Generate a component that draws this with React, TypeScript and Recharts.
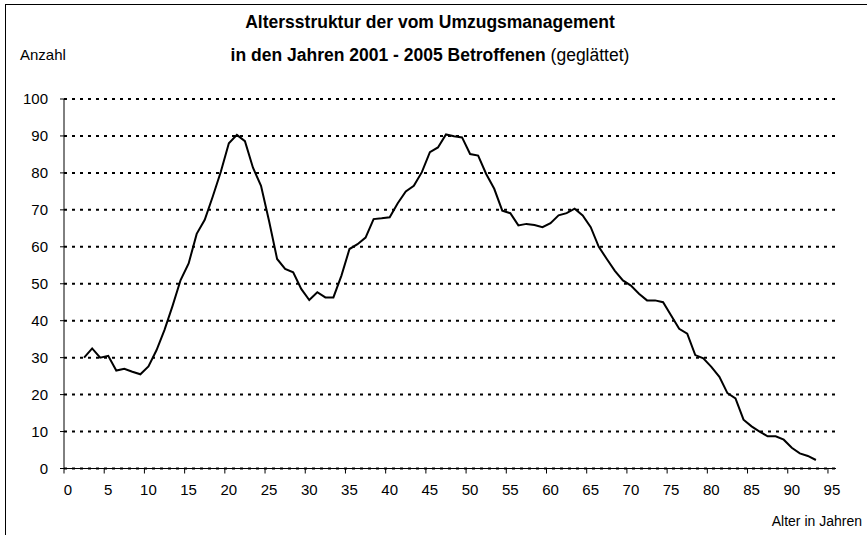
import React from 'react';
import { LineChart, Line, XAxis, YAxis, CartesianGrid } from 'recharts';

const ages = [
  2, 3, 4, 5, 6, 7, 8, 9, 10, 11, 12, 13, 14, 15, 16, 17, 18, 19, 20, 21,
  22, 23, 24, 25, 26, 27, 28, 29, 30, 31, 32, 33, 34, 35, 36, 37, 38, 39, 40, 41,
  42, 43, 44, 45, 46, 47, 48, 49, 50, 51, 52, 53, 54, 55, 56, 57, 58, 59, 60, 61,
  62, 63, 64, 65, 66, 67, 68, 69, 70, 71, 72, 73, 74, 75, 76, 77, 78, 79, 80, 81,
  82, 83, 84, 85, 86, 87, 88, 89, 90, 91, 92, 93,
];

const anzahl = [
  30, 32.5, 30, 30.5, 26.5, 27, 26.2, 25.5, 27.6, 32, 37.5, 44, 51, 55.5, 63.5, 67.3, 73.6, 80.3, 88, 90.3,
  88.6, 81.4, 76.5, 67, 56.7, 54, 53.1, 48.6, 45.6, 47.7, 46.3, 46.3, 52.2, 59.4, 60.7, 62.5, 67.5, 67.7, 68, 71.8,
  75, 76.5, 80.2, 85.6, 86.9, 90.4, 89.9, 89.6, 85.1, 84.7, 79.7, 75.7, 69.8, 69.1, 65.8, 66.2, 65.9, 65.3, 66.4, 68.5,
  69.1, 70.3, 68.5, 65.3, 60, 56.7, 53.5, 50.9, 49.5, 47.3, 45.5, 45.5, 45, 41.4, 37.8, 36.5, 30.7, 29.8, 27.5, 24.8,
  20.4, 19, 13.2, 11.4, 10, 8.7, 8.7, 7.8, 5.6, 4.1, 3.4, 2.3,
];

const xTicks = [0, 5, 10, 15, 20, 25, 30, 35, 40, 45, 50, 55, 60, 65, 70, 75, 80, 85, 90, 95];
const yTicks = [0, 10, 20, 30, 40, 50, 60, 70, 80, 90, 100];

const titleLine1 = 'Altersstruktur der vom Umzugsmanagement';
const titleLine2Bold = 'in den Jahren 2001 - 2005 Betroffenen';
const titleLine2Normal = ' (geglättet)';
const yLabel = 'Anzahl';
const xLabel = 'Alter in Jahren';

// category centers sit half a year to the right of the category boundary
const data = ages.map((a, i) => ({ pos: a + 0.5, value: anzahl[i] }));

const FONT = 'Arial, "Liberation Sans", sans-serif';

const XTick = (props: any) => {
  const { x, y, payload } = props;
  return (
    <text x={x + 4} y={y} dy="0.71em" textAnchor="middle" fontSize={15} fontFamily={FONT} fill="#000">
      {payload.value}
    </text>
  );
};

export default function App() {
  return (
    <div style={{ position: 'absolute', left: 0, top: 0, width: 867, height: 535, background: '#fff', overflow: 'hidden', fontFamily: FONT }}>
      <div style={{ position: 'absolute', left: 5, top: 4, width: 900, height: 600, borderLeft: '1px solid #000', borderTop: '1px solid #000' }} />
      <div style={{ position: 'absolute', left: 0, width: 860, top: 11, textAlign: 'center', fontSize: 17.5, fontWeight: 'bold', lineHeight: '22px', color: '#000' }}>
        {titleLine1}
      </div>
      <div style={{ position: 'absolute', left: 0, width: 860, top: 44, textAlign: 'center', fontSize: 17.5, lineHeight: '22px', color: '#000' }}>
        <span style={{ fontWeight: 'bold' }}>{titleLine2Bold}</span>
        <span>{titleLine2Normal}</span>
      </div>
      <div style={{ position: 'absolute', left: 20, top: 45, fontSize: 15, lineHeight: '20px', color: '#000' }}>{yLabel}</div>
      <div style={{ position: 'absolute', right: 5, top: 511, fontSize: 14, lineHeight: '20px', color: '#000' }}>{xLabel}</div>
      <div style={{ position: 'absolute', left: 0, top: 0 }}>
        <LineChart width={867} height={535} data={data} margin={{ top: 99, right: 31, bottom: 36.5, left: 0 }}>
          <CartesianGrid vertical={false} stroke="#000" strokeWidth={2} strokeDasharray="3 5" />
          <XAxis
            type="number"
            dataKey="pos"
            domain={[0, 96]}
            ticks={xTicks}
            interval={0}
            height={30}
            tickSize={5}
            tickMargin={11}
            axisLine={{ stroke: '#000', strokeWidth: 1 }}
            tickLine={{ stroke: '#000', strokeWidth: 1 }}
            tick={<XTick />}
            allowDataOverflow
          />
          <YAxis
            type="number"
            domain={[0, 100]}
            ticks={yTicks}
            interval={0}
            width={64}
            tickSize={4}
            tickMargin={12}
            axisLine={{ stroke: '#000', strokeWidth: 1 }}
            tickLine={{ stroke: '#000', strokeWidth: 1 }}
            tick={{ fill: '#000', fontSize: 15, fontFamily: FONT }}
          />
          <Line
            type="linear"
            dataKey="value"
            stroke="#000"
            strokeWidth={2}
            dot={false}
            isAnimationActive={false}
          />
        </LineChart>
      </div>
    </div>
  );
}
